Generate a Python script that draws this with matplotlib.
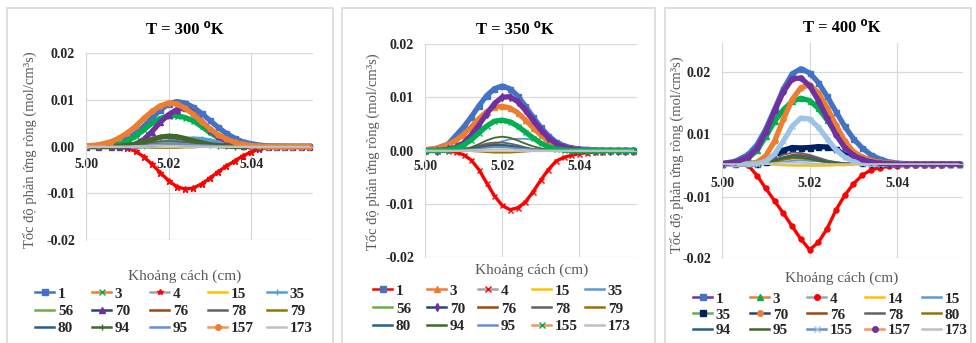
import matplotlib
matplotlib.use("Agg")
import matplotlib.pyplot as plt
from matplotlib.lines import Line2D
from matplotlib.legend import Legend
from matplotlib.patches import Rectangle

plt.rcParams['font.family'] = ['Liberation Serif', 'DejaVu Sans']

W, H = 976, 343

# distance along the reactor (cm), same mesh for all three temperatures
x_cm = [5.000, 5.003, 5.006, 5.008, 5.010, 5.012, 5.014, 5.016, 5.018,
        5.020, 5.022, 5.024, 5.026, 5.028, 5.030, 5.032, 5.034, 5.036,
        5.038, 5.040, 5.042, 5.044, 5.046, 5.048, 5.050, 5.052, 5.054]

# net reaction rates in units of 1e-4 mol/cm3s
RATE_UNIT = 1e-4

# ---- T = 300 K ----
labels_300 = ['1', '3', '4', '15', '35', '56', '70', '76', '78', '79',
              '80', '94', '95', '157', '173']
r300_1 = [0.3, 1.2, 4.3, 8.8, 16.5, 28, 43, 61, 78, 91, 96, 93, 84, 71, 56, 41, 28, 18, 10, 6, 3, 1, 0.5, 0.3, 0.2, 0.1, 0.1]
r300_3 = [0, 0, 2, 5, 11, 22, 36, 50, 60, 66, 66, 62, 55, 43, 30, 19, 10, 5, 2, 1, 0, 0, 0, 0, 0, 0, 0]
r300_4 = [0, 0, -1, -2, -4, -10, -22, -38, -56, -73, -86, -91, -89, -80, -68, -54, -42, -31, -20, -12, -5, -2, -1, 0, 0, 0, 0]
r300_15 = [0, 0, 0, 0, 0, -0.5, -1, -1.5, -2, -2, -2, -2, -1.5, -1, -0.5, 0, 0, 0, 0, 0, 0, 0, 0, 0, 0, 0, 0]
r300_35 = [0, 0, 0, 0, 0, 0, 2, 4, 7, 10, 13, 15, 16, 15, 12, 8, 5, 2, 1, 0, 0, 0, 0, 0, 0, 0, 0]
r300_56 = [0, 0, 0, 0, 1, 2, 4, 6, 8, 8, 7, 5, 3, 2, 1, 0, 0, 0, 0, 0, 0, 0, 0, 0, 0, 0, 0]
r300_70 = [0, 0, 0, 0, 1, 5, 15, 32, 52, 68, 79, 82, 72, 54, 36, 22, 12, 6, 2, 1, 0, 0, 0, 0, 0, 0, 0]
r300_76 = [0, 0, 0, 0, 1, 2, 3, 4, 5, 5, 4, 3, 2, 1, 0.5, 0, 0, 0, 0, 0, 0, 0, 0, 0, 0, 0, 0]
r300_78 = [0, 0, 0, 0, 1, 3, 6, 9, 11, 12, 11, 9, 6, 4, 2, 1, 0, 0, 0, 0, 0, 0, 0, 0, 0, 0, 0]
r300_79 = [0, 0, 0, 0, 0, -1, -2, -3, -3, -3, -3, -2, -2, -1, -0.5, 0, 0, 0, 0, 0, 0, 0, 0, 0, 0, 0, 0]
r300_80 = [0, 0, 0, 0, 1, 2, 3, 4, 4, 4, 3, 2, 1, 0.5, 0, 0, 0, 0, 0, 0, 0, 0, 0, 0, 0, 0, 0]
r300_94 = [0, 0, 0, 0, 2, 5, 10, 15, 20, 22, 21, 17, 12, 8, 4, 2, 1, 0, 0, 0, 0, 0, 0, 0, 0, 0, 0]
r300_95 = [0, 0, 0, 0, 0, 1, 2, 4, 5, 6, 6, 5, 4, 3, 2, 1, 0, 0, 0, 0, 0, 0, 0, 0, 0, 0, 0]
r300_157 = [1, 3.5, 10, 18, 29, 43, 60, 75, 87, 93, 91, 82, 69, 53, 38, 25, 16, 9, 5, 2, 1, 0, 0, 0, 0, 0, 0]
r300_173 = [0, 0, 0, 0, 0, 1, 1, 2, 2, 2, 2, 1, 1, 0, 0, 0, 0, 0, 0, 0, 0, 0, 0, 0, 0, 0, 0]
rates_300 = [r300_1, r300_3, r300_4, r300_15, r300_35, r300_56, r300_70, r300_76,
             r300_78, r300_79, r300_80, r300_94, r300_95, r300_157, r300_173]

# ---- T = 350 K ----
labels_350 = ['1', '3', '4', '15', '35', '56', '70', '76', '78', '79',
              '80', '94', '95', '155', '173']
r350_1 = [1, 4, 12, 28, 44, 63, 84, 103, 116, 121, 116, 103, 84, 63, 44, 28, 16, 9, 5, 3, 2, 1, 0.5, 0.3, 0.2, 0.1, 0.1]
r350_3 = [1, 4, 11, 19, 30, 44, 60, 73, 81, 83, 80, 71, 58, 43, 29, 18, 10, 5, 3, 1, 0.5, 0.3, 0.2, 0.1, 0.1, 0, 0]
r350_4 = [0, 0, -1, -3, -8, -18, -36, -61, -85, -103, -111, -108, -97, -78, -56, -36, -20, -13, -9, -6, -4, -3, -2, -1, -1, 0, 0]
r350_15 = [0, 0, 0, 0, 0, -0.5, -1, -1.5, -2, -2, -2, -1.5, -1, -0.5, 0, 0, 0, 0, 0, 0, 0, 0, 0, 0, 0, 0, 0]
r350_35 = [0, 0, 0, 0, 0, 1, 3, 7, 12, 17, 21, 22, 22, 20, 15, 9, 4, 2, 1, 0, 0, 0, 0, 0, 0, 0, 0]
r350_56 = [0, 0, 0, 0, 1, 2, 4, 6, 8, 8, 7, 5, 3, 2, 1, 0, 0, 0, 0, 0, 0, 0, 0, 0, 0, 0, 0]
r350_70 = [0, 0, 2, 6, 14, 29, 48, 69, 88, 100, 101, 92, 76, 57, 39, 24, 13, 6, 3, 1, 0, 0, 0, 0, 0, 0, 0]
r350_76 = [0, 0, 0, 0, 2, 4, 8, 11, 12, 11, 9, 6, 4, 2, 1, 0, 0, 0, 0, 0, 0, 0, 0, 0, 0, 0, 0]
r350_78 = [0, 0, 0, 0, 2, 5, 9, 13, 15, 15, 13, 10, 6, 3, 1, 0.5, 0, 0, 0, 0, 0, 0, 0, 0, 0, 0, 0]
r350_79 = [0, 0, 0, 0, -0.5, -1, -2, -3, -4, -4, -4, -3, -2, -1, -0.5, 0, 0, 0, 0, 0, 0, 0, 0, 0, 0, 0, 0]
r350_80 = [0, 0, 0, 0, 1, 3, 6, 8, 10, 10, 9, 7, 4, 2, 1, 0, 0, 0, 0, 0, 0, 0, 0, 0, 0, 0, 0]
r350_94 = [0, 0, 0, 0, 2, 6, 12, 19, 24, 26, 24, 19, 13, 8, 4, 2, 1, 0, 0, 0, 0, 0, 0, 0, 0, 0, 0]
r350_95 = [0, 0, 0, 0, 1, 2, 3, 5, 6, 6, 5, 4, 3, 2, 1, 0, 0, 0, 0, 0, 0, 0, 0, 0, 0, 0, 0]
r350_155 = [0, 0, 1, 4, 10, 20, 33, 46, 55, 57, 54, 46, 35, 24, 14, 7, 3, 1, 0, 0, 0, 0, 0, 0, 0, 0, 0]
r350_173 = [0, 0, 0, 0, 0, 1, 1, 2, 2, 2, 2, 1, 1, 0, 0, 0, 0, 0, 0, 0, 0, 0, 0, 0, 0, 0, 0]
rates_350 = [r350_1, r350_3, r350_4, r350_15, r350_35, r350_56, r350_70, r350_76,
             r350_78, r350_79, r350_80, r350_94, r350_95, r350_155, r350_173]

# ---- T = 400 K ----
labels_400 = ['1', '3', '4', '14', '15', '35', '70', '76', '78', '80',
              '94', '95', '155', '157', '173']
r400_1 = [1, 6, 21, 42, 76, 119, 163, 196, 207, 198, 177, 147, 114, 82, 55, 35, 20, 11, 5, 2, 1, 0.5, 0.3, 0.2, 0.1, 0.1, 0]
r400_3 = [1, 4, 13, 30, 60, 93, 118, 136, 143, 138, 121, 96, 68, 44, 26, 15, 8, 4, 2, 1, 0.5, 0.3, 0.2, 0.1, 0, 0, 0]
r400_4 = [0, 0, -3, -25, -53, -80, -107, -135, -163, -186, -170, -140, -100, -68, -43, -24, -13, -8, -5, -4, -3, -2, -1, -1, -1, 0, 0]
r400_14 = [0, 0, 0, 0, -1, -2, -3, -4, -4, -4, -4, -4, -3, -3, -2, -1, -1, 0, 0, 0, 0, 0, 0, 0, 0, 0, 0]
r400_15 = [0, 0, 0, 0, 1, 3, 5, 7, 8, 7, 6, 4, 2, 1, 0, 0, 0, 0, 0, 0, 0, 0, 0, 0, 0, 0, 0]
r400_35 = [0, 0, 0, 1, 5, 15, 30, 36, 35, 36, 38, 37, 32, 20, 9, 3, 1, 0, 0, 0, 0, 0, 0, 0, 0, 0, 0]
r400_70 = [0, 0, 1, 4, 18, 50, 97, 140, 166, 172, 155, 122, 85, 50, 27, 15, 8, 4, 2, 1, 0.5, 0.3, 0.2, 0.1, 0, 0, 0]
r400_76 = [0, 0, 0, 1, 4, 9, 15, 20, 20, 17, 12, 7, 4, 2, 1, 0, 0, 0, 0, 0, 0, 0, 0, 0, 0, 0, 0]
r400_78 = [0, 0, 0, 1, 5, 12, 20, 25, 24, 20, 14, 8, 4, 2, 1, 0, 0, 0, 0, 0, 0, 0, 0, 0, 0, 0, 0]
r400_80 = [0, 0, 0, 0, 2, 5, 9, 12, 12, 10, 7, 4, 2, 1, 0, 0, 0, 0, 0, 0, 0, 0, 0, 0, 0, 0, 0]
r400_94 = [0, 0, 0, 1, 3, 8, 14, 18, 17, 14, 9, 5, 3, 1, 0, 0, 0, 0, 0, 0, 0, 0, 0, 0, 0, 0, 0]
r400_95 = [0, 0, 0, 1, 3, 7, 12, 15, 14, 11, 7, 4, 2, 1, 0, 0, 0, 0, 0, 0, 0, 0, 0, 0, 0, 0, 0]
r400_155 = [0, 0, 0, 1, 6, 22, 50, 82, 100, 98, 80, 55, 31, 15, 6, 2, 0, 0, 0, 0, 0, 0, 0, 0, 0, 0, 0]
r400_157 = [1, 4, 15, 34, 70, 115, 157, 185, 187, 170, 138, 100, 64, 36, 19, 10, 5, 2, 1, 0, 0, 0, 0, 0, 0, 0, 0]
r400_173 = [0, 0, 0, 0, 1, 2, 3, 3, 3, 2, 1, 0, 0, 0, 0, 0, 0, 0, 0, 0, 0, 0, 0, 0, 0, 0, 0]
rates_400 = [r400_1, r400_3, r400_4, r400_14, r400_15, r400_35, r400_70, r400_76,
             r400_78, r400_80, r400_94, r400_95, r400_155, r400_157, r400_173]

# Excel-like palette
BLUE, ORANGE, GRAY, GOLD = '#4472C4', '#ED7D31', '#A5A5A5', '#FFC000'
LBLUE, GREEN, DBLUE, BROWN = '#5B9BD5', '#70AD47', '#264478', '#9E480E'
DGRAY, DGOLD, MBLUE, DGREEN = '#636363', '#997300', '#255E91', '#43682B'
PBLUE, LORANGE, LGRAY = '#698ED0', '#F1975A', '#C0C0C0'
RED, PURPLE, BGREEN, NAVY, SKY = '#FF0000', '#7030A0', '#00B050', '#002060', '#9DC3E6'

# (line colour, marker, marker colour) as in each legend
style_300 = {'1': (BLUE, 's', BLUE), '3': (ORANGE, 'x', BGREEN), '4': (GRAY, '*', RED),
             '15': (GOLD, None, None), '35': (LBLUE, '+', LBLUE), '56': (GREEN, None, None),
             '70': (DBLUE, '^', PURPLE), '76': (BROWN, None, None), '78': (DGRAY, None, None),
             '79': (DGOLD, None, None), '80': (MBLUE, None, None), '94': (DGREEN, '+', DGREEN),
             '95': (PBLUE, None, None), '157': (LORANGE, 'o', ORANGE), '173': (LGRAY, None, None)}
style_350 = {'1': (RED, 's', BLUE), '3': (ORANGE, '^', ORANGE), '4': (GRAY, 'x', RED),
             '15': (GOLD, None, None), '35': (LBLUE, None, None), '56': (GREEN, None, None),
             '70': (DBLUE, 'd', PURPLE), '76': (BROWN, None, None), '78': (DGRAY, None, None),
             '79': (DGOLD, None, None), '80': (MBLUE, None, None), '94': (DGREEN, None, None),
             '95': (PBLUE, None, None), '155': (LORANGE, 'x', BGREEN), '173': (LGRAY, None, None)}
style_400 = {'1': (PURPLE, 's', BLUE), '3': (ORANGE, '^', BGREEN), '4': (GRAY, 'o', RED),
             '14': (GOLD, None, None), '15': (LBLUE, None, None), '35': (GREEN, 's', NAVY),
             '70': (DBLUE, 'o', ORANGE), '76': (BROWN, None, None), '78': (DGRAY, None, None),
             '80': (DGOLD, None, None), '94': (MBLUE, None, None), '95': (DGREEN, None, None),
             '155': (PBLUE, 'x', SKY), '157': (LORANGE, 'o', PURPLE), '173': (LGRAY, None, None)}

GRID = '#D9D9D9'
TXT = '#262626'


def px(x, y):
    return x / W, 1 - y / H


def add_panel(fig, rect, labels, rates, styles, title, title_xy, xlabel_xy,
              ylabel_xy, leg_cols, leg_top, row_gap, ylim, yticks,
              yticklabels, xpad):
    l, t, r, b = rect
    ax = fig.add_axes([l / W, 1 - b / H, (r - l) / W, (b - t) / H])
    for lab, vals in zip(labels, rates):
        lc, mk, mc = styles[lab]
        y = [v * RATE_UNIT for v in vals]
        if mk is None:
            ax.plot(x_cm, y, color=lc, lw=1.3)
        else:
            lw = 2.4 if lab == '4' else 3.8
            ms = 4.5 if mk in ('*', '+') else 3.6
            ax.plot(x_cm, y, color=mc, lw=lw, marker=mk, ms=ms,
                    mfc=mc, mec=mc, mew=1.0)

    ax.set_xlim(5.0, 5.055)
    ax.set_ylim(*ylim)
    ax.set_xticks([5.00, 5.02, 5.04], ['5.00', '5.02', '5.04'])
    ax.set_yticks(yticks, yticklabels)
    ax.grid(True, color=GRID, lw=0.9)
    ax.set_axisbelow(True)
    for s in ('top', 'right'):
        ax.spines[s].set_visible(False)
    ax.spines['left'].set_color(GRID)
    ax.spines['bottom'].set_position(('data', 0))
    ax.spines['bottom'].set_color('#BFBFBF')
    ax.tick_params(length=0, labelsize=10, labelcolor=TXT)
    ax.tick_params(axis='y', pad=8)
    ax.tick_params(axis='x', pad=xpad)
    for tl in ax.get_xticklabels() + ax.get_yticklabels():
        tl.set_fontweight('bold')

    fig.text(*px(*title_xy), title, ha='center', va='center', fontsize=12,
             fontweight='bold', color='black')
    fig.text(*px(*xlabel_xy), 'Khoảng cách (cm)', ha='center', va='center',
             fontsize=11, color='#595959')
    fig.text(*px(*ylabel_xy), 'Tốc độ phản ứng ròng (mol/cm³s)', ha='center',
             va='center', rotation=90, fontsize=10.5, color='#595959')

    handles = []
    for lab in labels:
        lc, mk, mc = styles[lab]
        handles.append(Line2D([], [], color=lc, lw=1.8, marker=mk, ms=4,
                              mfc=mc, mec=mc))
    # Excel lays the legend out row by row on an even grid: one small
    # legend per column keeps the columns at the reference positions
    for c, cx in enumerate(leg_cols):
        idx = [c, c + 5, c + 10]
        leg = Legend(ax, [handles[i] for i in idx], [labels[i] for i in idx],
                     loc='upper left', bbox_to_anchor=px(cx, leg_top),
                     bbox_transform=fig.transFigure, frameon=False,
                     fontsize=11, handlelength=1.25, handletextpad=0.25,
                     labelspacing=row_gap, borderpad=0, borderaxespad=0)
        for tx in leg.get_texts():
            tx.set_fontweight('bold')
            tx.set_color(TXT)
        ax.add_artist(leg)
    return ax


fig = plt.figure(figsize=(W / 100, H / 100), dpi=100)

# chart frames
for x0, x1 in [(7, 333), (342, 655), (665, 971)]:
    fig.add_artist(Rectangle((x0 / W, -0.05), (x1 - x0) / W, 1 - 8 / H + 0.05,
                             transform=fig.transFigure, fill=False,
                             ec=GRID, lw=1.2))

std_ticks = [-0.02, -0.01, 0.0, 0.01, 0.02]
std_labels = ['-0.02', '-0.01', '0.00', '0.01', '0.02']

add_panel(fig, (86, 53, 313, 240), labels_300, rates_300, style_300,
          'T = 300 ⁰K', (185, 30), (185, 276), (30, 150),
          [35, 92, 150, 208, 267], 287, 0.24,
          (-0.02, 0.02), std_ticks, std_labels, 8)
add_panel(fig, (425, 44, 637, 257), labels_350, rates_350, style_350,
          'T = 350 ⁰K', (515, 30), (532, 270), (373, 152),
          [373, 427, 478, 532, 585], 284, 0.27,
          (-0.02, 0.02), std_ticks, std_labels, 7)
add_panel(fig, (722, 43, 963, 258), labels_400, rates_400, style_400,
          'T = 400 ⁰K', (842, 28), (842, 278), (677, 155),
          [693, 750, 807, 865, 922], 292, 0.14,
          (-0.0204, 0.0263), [-0.0204, -0.0072, 0.0065, 0.02],
          ['-0.02', '-0.01', '0.01', '0.02'], 9)

fig.savefig('out.png', dpi=100, facecolor='white')
